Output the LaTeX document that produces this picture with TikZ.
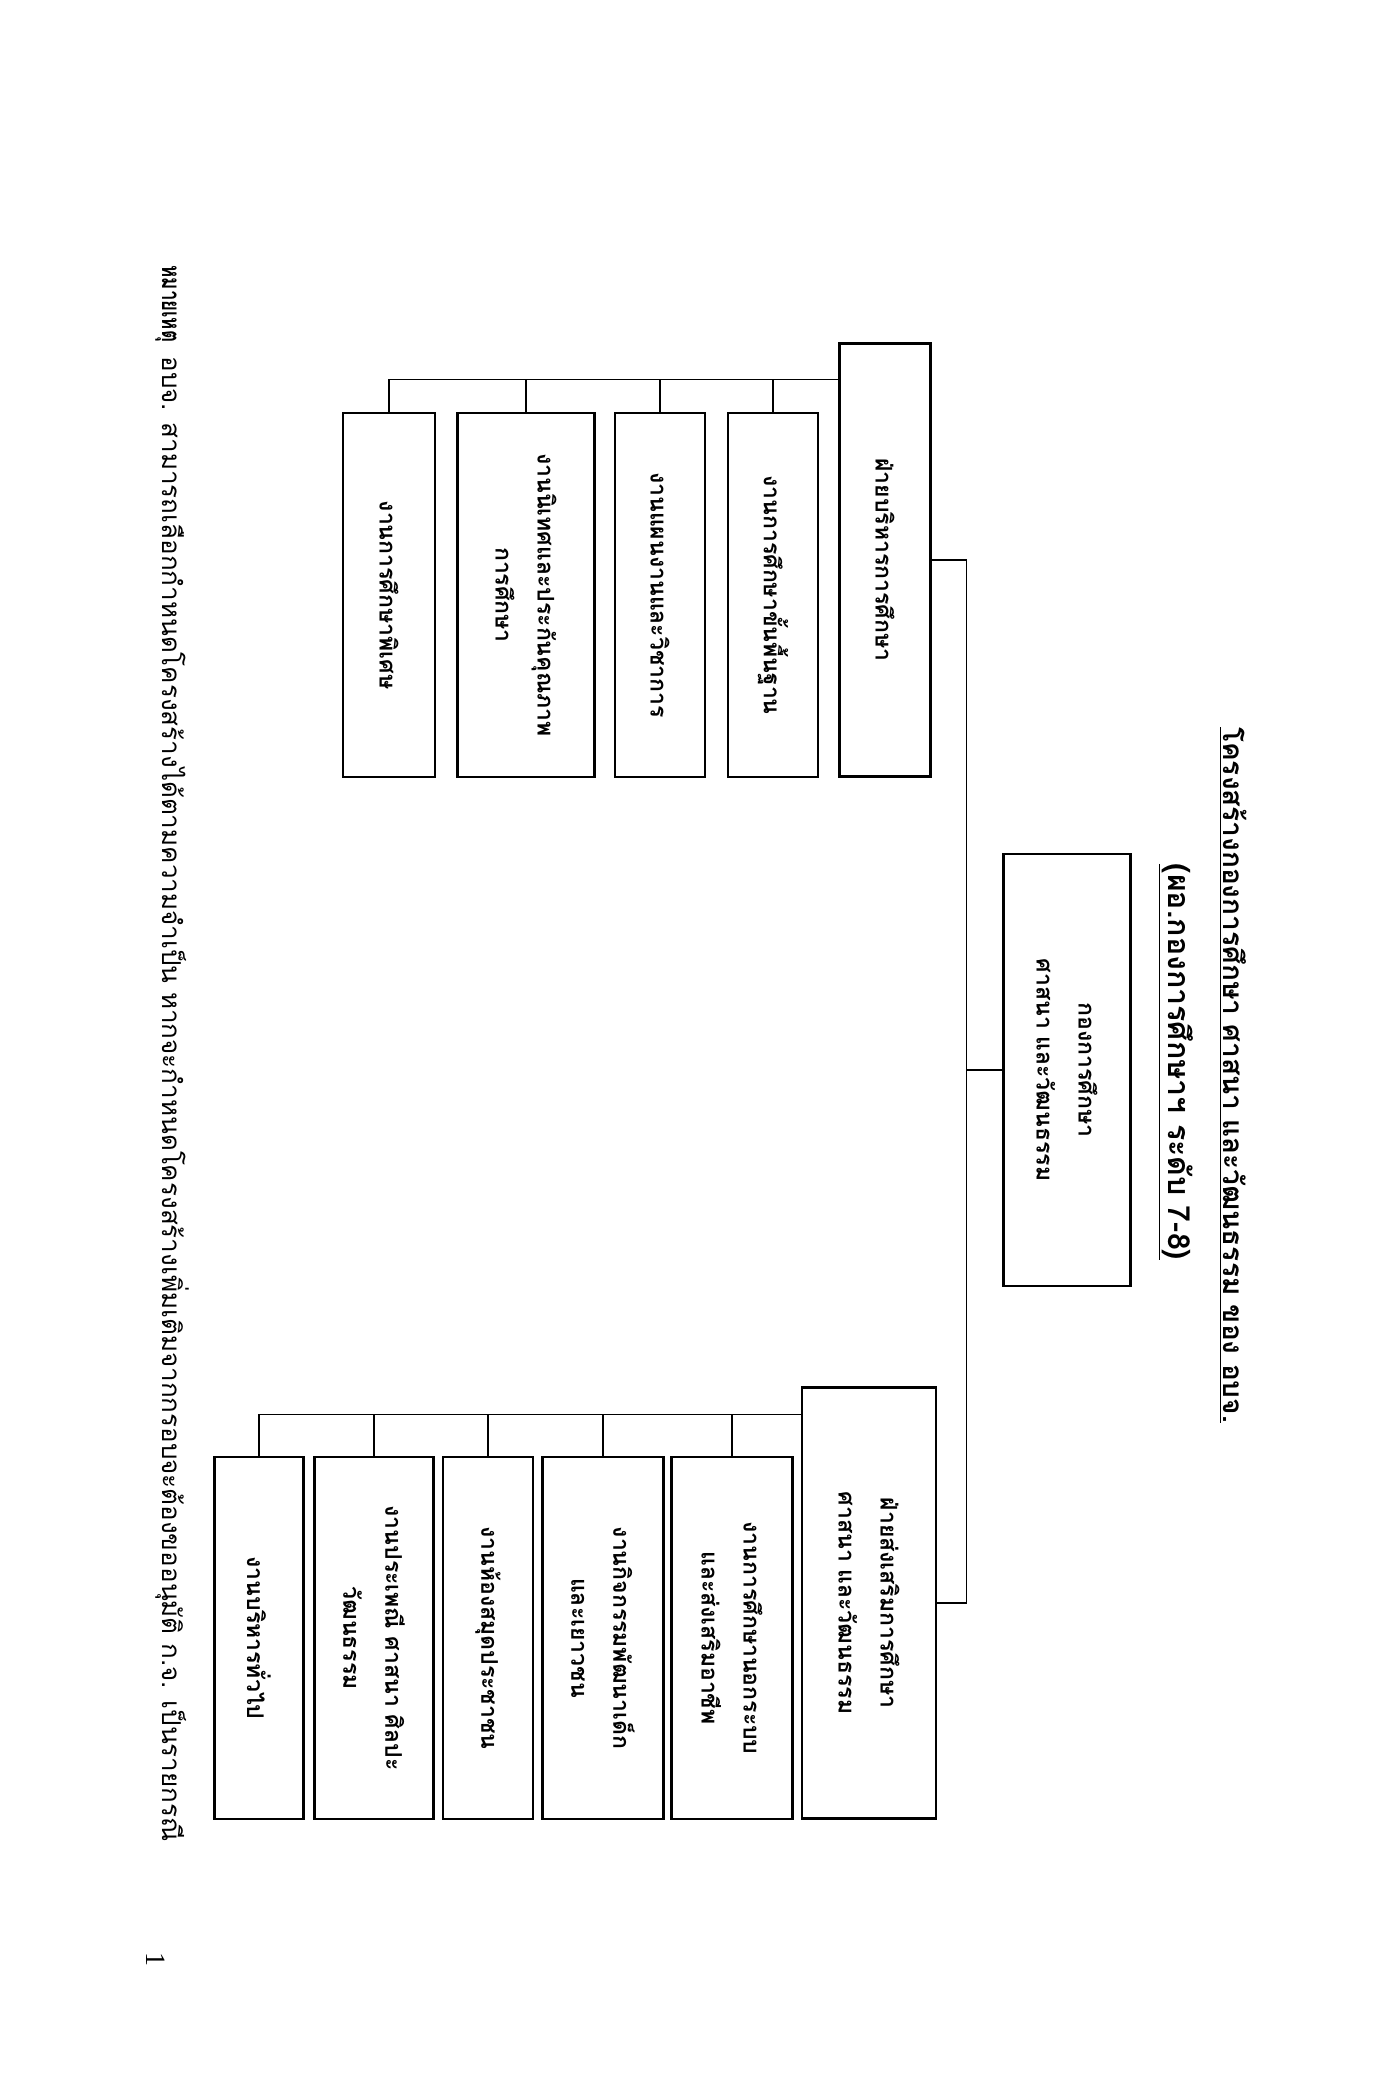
\documentclass[tikz,border=0pt]{standalone}
\usepackage{fontspec}
\setmainfont{Liberation Serif}
\newfontfamily\thaifont[Script=Thai]{Loma}
\usetikzlibrary{calc}
\begin{document}
\begin{tikzpicture}[x=0.5pt,y=-0.5pt,
  box/.style={draw, line width=1.1pt, rotate=-90, inner sep=0pt, align=center,
    font=\thaifont\bfseries\fontsize{11.5}{21}\selectfont},
  conn/.style={line width=0.9pt},
  txt/.style={rotate=-90, inner sep=0pt, font=\thaifont\bfseries\fontsize{13}{21}\selectfont}]
\useasboundingbox[fill=white] (0,0) rectangle (1396,2078);

% title
\node[txt, font=\thaifont\bfseries\fontsize{14}{20}\selectfont] (title) at (1233,1075)
  {\underline{โครงสร้างกองการศึกษา ศาสนา และวัฒนธรรม ของ อบจ.}};
\node[txt, font=\thaifont\bfseries\fontsize{15.2}{20}\selectfont] (subtitle) at (1176,1062)
  {\underline{(ผอ.กองการศึกษาฯ ระดับ 7-8)}};

% central box
\node[box, minimum width=216pt, minimum height=63.5pt] (ctr) at (1067,1070)
  {กองการศึกษา\\ศาสนา และวัฒนธรรม};

% branch heads
\node[box, minimum width=216.5pt, minimum height=45.5pt] (hA) at (885,560)
  {ฝ่ายบริหารการศึกษา};
\node[box, minimum width=215.5pt, minimum height=67pt] (hB) at (869,1603)
  {ฝ่ายส่งเสริมการศึกษา\\ศาสนา และวัฒนธรรม};

% top children
\node[box, minimum width=182pt, minimum height=45pt] (a1) at (773,595) {งานการศึกษาขั้นพื้นฐาน};
\node[box, minimum width=182pt, minimum height=45pt] (a2) at (660,595) {งานแผนงานและวิชาการ};
\node[box, minimum width=182pt, minimum height=68.5pt] (a3) at (526,595) {งานนิเทศและประกันคุณภาพ\\การศึกษา};
\node[box, minimum width=182pt, minimum height=46pt] (a4) at (389,595) {งานการศึกษาพิเศษ};

% bottom children
\node[box, minimum width=181pt, minimum height=60.5pt] (b1) at (732,1638) {งานการศึกษานอกระบบ\\และส่งเสริมอาชีพ};
\node[box, minimum width=181pt, minimum height=60.5pt] (b2) at (603,1638) {งานกิจกรรมพัฒนาเด็ก\\และเยาวชน};
\node[box, minimum width=181pt, minimum height=45pt] (b3) at (488,1638) {งานห้องสมุดประชาชน};
\node[box, minimum width=181pt, minimum height=59.5pt] (b4) at (374,1638) {งานประเพณี ศาสนา ศิลปะ\\วัฒนธรรม};
\node[box, minimum width=181pt, minimum height=44.5pt] (b5) at (259,1638) {งานบริหารทั่วไป};

% connectors
\coordinate (spine) at ($(ctr.south)+(-36,0)$);
\draw[conn] (ctr.south) -- (spine);
\draw[conn] (hA.north) -| (spine) |- (hB.north);

\coordinate (busA) at ($(hA.south west)+(0,37)$);
\draw[conn] (busA) -| (a4.west);
\foreach \c in {a1,a2,a3} \draw[conn] (\c.west) -- (\c.west |- busA);

\coordinate (busB) at ($(hB.south west)+(0,28)$);
\draw[conn] (busB) -| (b5.west);
\foreach \c in {b1,b2,b3,b4} \draw[conn] (\c.west) -- (\c.west |- busB);

% footnote
\node[txt, anchor=west] (note) at (172,265)
  {\scalebox{0.72}[1]{หมายเหตุ}\hspace{7pt}{\mdseries อบจ. สามารถเลือกกำหนดโครงสร้างได้ตามความจำเป็น หากจะกำหนดโครงสร้างเพิ่มเติมจากกรอบจะต้องขออนุมัติ ก.จ. เป็นรายกรณี}};
\node[txt, font=\fontsize{14}{16}\selectfont] (pageno) at (156,1959) {1};
\end{tikzpicture}
\end{document}
